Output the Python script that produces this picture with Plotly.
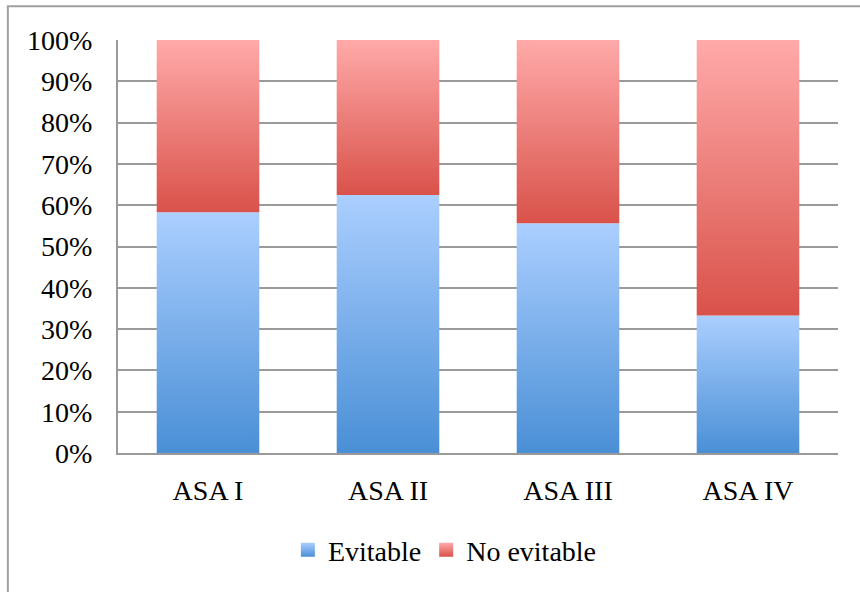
import plotly.graph_objects as go

# Share of adverse events by ASA class (100% stacked)
categories = ["ASA I", "ASA II", "ASA III", "ASA IV"]
evitable = [58.3, 62.5, 55.6, 33.3]
no_evitable = [41.7, 37.5, 44.4, 66.7]
y_ticks = [0, 10, 20, 30, 40, 50, 60, 70, 80, 90, 100]
y_ticktext = [f"{v}%" for v in y_ticks]

BAR_HALF = 0.285
FONT = dict(family="Liberation Serif", size=28, color="#000000")

series = [
    ("Evitable", evitable, ["#4a8fd6", "#abcfff"]),
    ("No evitable", no_evitable, ["#d9524a", "#ffaaa9"]),
]

fig = go.Figure()
bases = [0.0] * len(categories)
for name, values, (dark, light) in series:
    for i, v in enumerate(values):
        y0, y1 = bases[i], bases[i] + v
        fig.add_trace(go.Scatter(
            x=[i - BAR_HALF, i + BAR_HALF, i + BAR_HALF, i - BAR_HALF, i - BAR_HALF],
            y=[y0, y0, y1, y1, y0],
            mode="lines",
            fill="toself",
            line=dict(width=0, color=dark),
            fillgradient=dict(type="vertical", colorscale=[[0, dark], [1, light]]),
            name=name,
            legendgroup=name,
            showlegend=False,
            hoverinfo="skip",
        ))
        bases[i] = y1
    # legend swatch for the series
    fig.add_trace(go.Scatter(
        x=[None], y=[None],
        mode="markers",
        marker=dict(symbol="square", size=14, color=light,
                    gradient=dict(type="vertical", color=dark),
                    line=dict(width=0)),
        name=name,
        legendgroup=name,
        showlegend=True,
        hoverinfo="skip",
    ))

fig.update_layout(
    width=860,
    height=592,
    paper_bgcolor="white",
    plot_bgcolor="white",
    margin=dict(l=118, r=22, t=40, b=139),
    font=FONT,
    xaxis=dict(
        range=[-0.5, len(categories) - 0.5],
        tickvals=list(range(len(categories))),
        ticktext=categories,
        showgrid=False,
        zeroline=False,
        showline=True,
        linecolor="#9a9a9a",
        linewidth=2,
        ticks="",
        ticklabelstandoff=11,
        tickfont=FONT,
        fixedrange=True,
    ),
    yaxis=dict(
        range=[0, 100],
        tickvals=y_ticks,
        ticktext=y_ticktext,
        showgrid=True,
        gridcolor="#9a9a9a",
        gridwidth=2,
        zeroline=False,
        showline=True,
        linecolor="#9a9a9a",
        linewidth=2,
        ticks="",
        ticklabelstandoff=18,
        tickfont=FONT,
        fixedrange=True,
    ),
    legend=dict(
        orientation="h",
        x=0.454,
        xanchor="center",
        y=-0.235,
        yanchor="middle",
        font=FONT,
        itemwidth=30,
        bgcolor="rgba(0,0,0,0)",
    ),
    shapes=[
        dict(
            type="rect", xref="paper", yref="paper",
            x0=-0.153, x1=1.2, y0=-0.6, y1=1.082,
            line=dict(color="#a0a0a0", width=2),
            fillcolor="rgba(0,0,0,0)",
            layer="below",
        )
    ],
)

fig.write_html("out.html")
